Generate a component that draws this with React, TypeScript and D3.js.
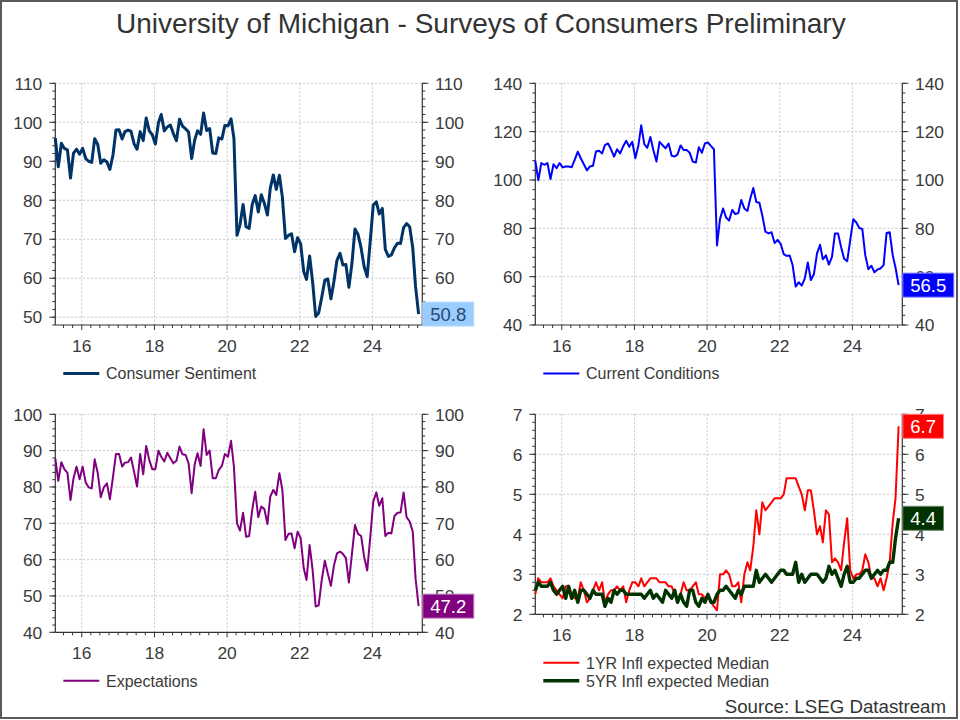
import React from "react";
import * as d3 from "d3";

// Monthly preliminary readings, April 2015 .. April 2025
const START_YEAR = 2015;
const START_MONTH = 3; // April (0-based)

const sentiment = [
  95.9, 88.6, 94.6, 93.3, 92.9, 85.7, 92.1, 93.1, 91.8,
  93.3, 90.7, 90.0, 89.7, 95.8, 94.3, 89.5, 90.4, 89.8, 87.9, 91.6, 98.0,
  98.1, 95.7, 97.6, 98.0, 97.7, 94.5, 93.1, 97.6, 95.3, 101.1, 97.8, 96.8,
  94.4, 99.9, 102.0, 97.8, 98.8, 99.3, 97.1, 95.3, 100.8, 99.0, 98.3, 97.5,
  90.7, 95.5, 97.8, 96.9, 102.4, 97.9, 98.4, 92.1, 92.0, 96.0, 95.7, 99.2,
  99.1, 100.9, 95.9, 71.0, 73.7, 78.9, 73.2, 72.8, 78.9, 81.2, 77.0, 81.4,
  79.2, 76.2, 83.0, 86.5, 82.8, 86.4, 80.8, 70.2, 71.0, 71.4, 66.8, 70.4,
  68.8, 61.7, 59.7, 65.7, 59.1, 50.2, 51.1, 55.1, 59.5, 59.8, 54.7, 59.1,
  64.6, 66.4, 63.4, 63.5, 57.7, 63.9, 72.6, 71.2, 67.7, 63.0, 60.4, 69.4,
  78.8, 79.6, 76.5, 77.9, 67.4, 65.6, 66.0, 67.8, 69.0, 68.9, 73.0, 74.0,
  73.2, 67.8, 57.9, 50.8,
];

const currentConditions = [
  108.0, 99.9, 107.0, 106.3, 107.0, 100.4, 106.5, 104.9, 107.0,
  105.2, 105.6, 105.6, 105.3, 108.3, 111.7, 109.0, 106.5, 104.0, 105.6, 105.9, 111.8,
  112.1, 111.0, 114.4, 115.1, 112.7, 109.7, 112.7, 111.0, 114.0, 116.2, 113.7, 115.8,
  109.0, 114.4, 122.6, 114.8, 113.3, 117.8, 112.4, 107.6, 115.8, 114.4, 113.1, 115.1,
  110.0, 109.7, 110.6, 114.3, 112.4, 112.4, 111.3, 107.6, 107.2, 113.5, 111.3, 115.1,
  115.5, 114.0, 112.7, 72.9, 83.8, 88.2, 84.5, 83.2, 87.6, 85.9, 86.3, 91.7,
  88.2, 87.2, 92.2, 96.7, 90.9, 90.6, 85.2, 78.6, 77.9, 78.4, 73.9, 75.2,
  73.6, 69.3, 68.6, 68.8, 64.8, 55.9, 57.7, 56.3, 59.3, 65.9, 58.6, 61.0,
  69.5, 73.2, 67.2, 68.8, 65.0, 68.2, 77.9, 77.9, 72.2, 67.4, 66.4, 75.0,
  83.8, 82.4, 80.1, 79.7, 68.8, 63.1, 64.5, 61.8, 63.0, 63.4, 64.8, 78.1,
  78.4, 68.8, 63.7, 56.5,
];

const expectations = [
  87.9, 81.7, 86.8, 84.9, 83.9, 76.4, 82.4, 85.6, 82.1,
  85.6, 81.2, 79.9, 79.6, 87.6, 83.8, 77.2, 79.9, 81.0, 76.6, 82.8, 89.1,
  89.1, 85.6, 86.7, 86.8, 88.1, 84.2, 80.1, 89.1, 83.5, 91.3, 87.4, 84.9,
  84.9, 90.0, 88.3, 87.0, 89.4, 87.9, 86.5, 87.2, 91.1, 89.0, 88.8, 86.5,
  78.3, 86.3, 89.3, 85.8, 95.9, 88.8, 90.0, 82.4, 82.4, 84.7, 85.8, 89.1,
  88.3, 92.7, 85.6, 70.0, 68.0, 72.9, 66.3, 66.5, 73.7, 78.7, 71.7, 74.6,
  73.9, 69.8, 77.3, 79.2, 77.8, 83.8, 79.2, 65.4, 67.1, 67.2, 63.1, 67.7,
  65.9, 57.6, 54.4, 64.0, 57.2, 47.1, 47.4, 54.4, 59.7, 56.2, 52.8, 58.3,
  61.7, 62.2, 61.6, 60.4, 53.7, 61.7, 69.5, 67.1, 66.5, 60.8, 57.0, 65.9,
  76.0, 78.5, 74.8, 76.9, 66.5, 67.4, 67.2, 72.0, 72.9, 73.0, 78.5, 71.7,
  70.5, 67.7, 54.9, 47.2,
];

const inflation1yr = [
  2.5, 2.9, 2.8, 2.8, 2.8, 2.9, 2.7, 2.6, 2.5,
  2.4, 2.7, 2.7, 2.5, 2.4, 2.4, 2.8, 2.6, 2.3, 2.4, 2.6, 2.8,
  2.6, 2.8, 2.3, 2.5, 2.6, 2.6, 2.7, 2.6, 2.7, 2.3, 2.6, 2.8,
  2.8, 2.7, 2.9, 2.7, 2.8, 2.9, 2.9, 2.9, 2.8, 2.8, 2.8, 2.7,
  2.7, 2.5, 2.3, 2.5, 2.8, 2.6, 2.6, 2.7, 2.8, 2.5, 2.5, 2.4,
  2.5, 2.3, 2.2, 2.1, 3.0, 3.0, 3.1, 3.0, 2.7, 2.7, 2.8, 2.3,
  3.0, 3.3, 3.1, 3.7, 4.6, 4.0, 4.8, 4.6, 4.7, 4.8, 4.9, 4.9,
  4.9, 5.0, 5.4, 5.4, 5.4, 5.4, 5.2, 5.0, 4.6, 5.1, 5.1, 4.6,
  4.0, 4.2, 3.8, 4.6, 4.5, 3.3, 3.4, 3.3, 3.1, 3.8, 4.4, 3.1,
  2.9, 3.0, 3.0, 3.1, 3.5, 3.3, 2.9, 2.9, 2.7, 2.9, 2.6, 2.9,
  3.3, 4.3, 4.9, 6.7,
];

const inflation5yr = [
  2.6, 2.8, 2.7, 2.7, 2.7, 2.8, 2.6, 2.5, 2.6,
  2.7, 2.4, 2.7, 2.4, 2.6, 2.3, 2.6, 2.6, 2.5, 2.4, 2.6, 2.5,
  2.5, 2.5, 2.2, 2.4, 2.3, 2.6, 2.5, 2.6, 2.6, 2.5, 2.5, 2.5,
  2.5, 2.5, 2.5, 2.4, 2.5, 2.6, 2.4, 2.5, 2.4, 2.3, 2.6, 2.5,
  2.4, 2.6, 2.3, 2.5, 2.3, 2.2, 2.6, 2.6, 2.3, 2.2, 2.4, 2.3,
  2.5, 2.3, 2.3, 2.5, 2.6, 2.6, 2.7, 2.6, 2.5, 2.4, 2.6, 2.5,
  2.7, 2.7, 2.7, 2.7, 3.1, 2.8, 2.9, 3.0, 2.9, 2.8, 2.9, 3.0,
  3.1, 3.1, 3.0, 3.0, 3.0, 3.3, 2.8, 3.0, 2.8, 2.9, 3.0, 3.0,
  3.0, 2.9, 2.8, 2.9, 3.2, 3.0, 3.1, 2.9, 2.7, 3.0, 3.2, 2.8,
  2.8, 2.9, 2.9, 3.0, 3.1, 3.1, 2.9, 3.0, 3.1, 3.0, 3.1, 3.1,
  3.3, 3.3, 3.9, 4.4,
];

const yearLabels = ["16", "18", "20", "22", "24"];

const FONT = '"Liberation Sans", Arial, Helvetica, sans-serif';
const TEXT = "#3a3a3a";

type Series = {
  name: string;
  values: number[];
  color: string;
  width: number;
  boxFill: string;
  boxText: string;
  boxStroke: string;
};

type PanelProps = {
  left: number;
  right: number;
  top: number;
  bottom: number;
  yDomain: [number, number];
  yTicks: number[];
  minorStep: number;
  series: Series[];
};

const digitWidth = (s: string, fs: number) =>
  s.split("").reduce((a, c) => a + (c === "." ? 0.278 : 0.556), 0) * fs;

function Panel({ left, right, top, bottom, yDomain, yTicks, minorStep, series }: PanelProps) {
  const dates = series[0].values.map((_, i) => new Date(START_YEAR, START_MONTH + i, 10));
  const x = d3
    .scaleTime()
    .domain([new Date(2015, 3, 10), new Date(2025, 4, 17)])
    .range([left, right]);
  const y = d3.scaleLinear().domain(yDomain).range([bottom, top]);

  const quarterTicks = d3.timeMonth
    .every(3)!
    .range(x.domain()[0], x.domain()[1])
    .filter((d) => d.getMonth() % 3 === 0);
  const labelYears = yearLabels.map((l) => new Date(2000 + +l, 0, 1));
  const minors = d3.range(yDomain[0], yDomain[1] + 1e-9, minorStep);

  const line = d3
    .line<number>()
    .x((_, i) => x(dates[i]))
    .y((d) => y(d));

  const tickFs = 17.4;
  const legendY0 = bottom + 48.4;

  return (
    <g>
      {/* gridlines */}
      {labelYears.map((d, i) => (
        <line
          key={"vg" + i}
          x1={x(d)}
          x2={x(d)}
          y1={top}
          y2={bottom}
          stroke="#c4c4c4"
          strokeWidth={1}
          strokeDasharray="2,2"
        />
      ))}
      {yTicks
        .filter((t) => y(t) < bottom - 0.5)
        .map((t) => (
          <line
            key={"hg" + t}
            x1={left}
            x2={right}
            y1={y(t)}
            y2={y(t)}
            stroke="#c4c4c4"
            strokeWidth={1}
            strokeDasharray="2,2"
          />
        ))}
      {/* axes */}
      <line x1={left} x2={left} y1={top} y2={bottom} stroke="#333" strokeWidth={1.2} />
      <line x1={right} x2={right} y1={top} y2={bottom} stroke="#333" strokeWidth={1.2} />
      <line x1={left} x2={right} y1={bottom} y2={bottom} stroke="#333" strokeWidth={1.2} />
      {minors.map((t) => (
        <g key={"mt" + t}>
          <line x1={left - 3} x2={left} y1={y(t)} y2={y(t)} stroke="#333" />
          <line x1={right} x2={right + 3} y1={y(t)} y2={y(t)} stroke="#333" />
        </g>
      ))}
      {yTicks.map((t) => (
        <g key={"yt" + t}>
          <line x1={left - 6} x2={left} y1={y(t)} y2={y(t)} stroke="#333" />
          <line x1={right} x2={right + 6} y1={y(t)} y2={y(t)} stroke="#333" />
          <text
            x={left - 13}
            y={y(t)}
            dy="0.36em"
            textAnchor="end"
            fontSize={tickFs}
            fill={TEXT}
            fontFamily={FONT}
          >
            {t}
          </text>
          <text
            x={right + 12.7}
            y={y(t)}
            dy="0.36em"
            textAnchor="start"
            fontSize={tickFs}
            fill={TEXT}
            fontFamily={FONT}
          >
            {t}
          </text>
        </g>
      ))}
      {quarterTicks.map((d, i) => {
        const even = d.getMonth() === 0 && d.getFullYear() % 2 === 0;
        return (
          <line
            key={"xt" + i}
            x1={x(d)}
            x2={x(d)}
            y1={bottom}
            y2={bottom + (even ? 5 : 3)}
            stroke="#333"
          />
        );
      })}
      {labelYears.map((d, i) => (
        <text
          key={"xl" + i}
          x={x(d)}
          y={bottom + 27}
          textAnchor="middle"
          fontSize={tickFs}
          fill={TEXT}
          fontFamily={FONT}
        >
          {yearLabels[i]}
        </text>
      ))}
      {/* series lines */}
      {series.map((s) => (
        <path
          key={s.name}
          d={line(s.values) || ""}
          fill="none"
          stroke={s.color}
          strokeWidth={s.width}
          strokeLinejoin="round"
        />
      ))}
      {/* last value boxes */}
      {series.map((s) => {
        const v = s.values[s.values.length - 1];
        const label = v.toFixed(1);
        const fs = 18.5;
        const w = digitWidth(label, fs) + 15;
        const cy = y(v);
        return (
          <g key={"box" + s.name}>
            <rect
              x={right + 0.5}
              y={cy - 12}
              width={w}
              height={24}
              fill={s.boxFill}
              stroke={s.boxStroke}
              strokeWidth={1}
            />
            <text
              x={right + 0.5 + w / 2}
              y={cy}
              dy="0.36em"
              textAnchor="middle"
              fontSize={fs}
              fill={s.boxText}
              fontFamily={FONT}
            >
              {label}
            </text>
          </g>
        );
      })}
      {/* legend */}
      {series.map((s, k) => (
        <g key={"lg" + s.name}>
          <line
            x1={left + 8}
            x2={left + 44}
            y1={legendY0 + 18 * k}
            y2={legendY0 + 18 * k}
            stroke={s.color}
            strokeWidth={s.width}
          />
          <text
            x={left + 50.7}
            y={legendY0 + 18 * k + 6}
            fontSize={16}
            fill={TEXT}
            fontFamily={FONT}
          >
            {s.name}
          </text>
        </g>
      ))}
    </g>
  );
}

export default function App() {
  return (
    <svg
      width={960}
      height={720}
      style={{ position: "absolute", left: 0, top: 0, display: "block", background: "#fff" }}
    >
      <rect x={0} y={0} width={960} height={720} fill="#fff" />
      <rect x={1} y={1} width={956} height={717} fill="none" stroke="#5a5a5a" strokeWidth={2} />
      <text
        x={480.8}
        y={33.3}
        textAnchor="middle"
        fontSize={28}
        fill="#333"
        fontFamily={FONT}
      >
        University of Michigan - Surveys of Consumers Preliminary
      </text>

      <Panel
        left={55.3}
        right={422.3}
        top={83.3}
        bottom={325}
        yDomain={[48, 110]}
        yTicks={[50, 60, 70, 80, 90, 100, 110]}
        minorStep={2}
        series={[
          {
            name: "Consumer Sentiment",
            values: sentiment,
            color: "#003366",
            width: 3,
            boxFill: "#99ccff",
            boxText: "#2a4a70",
            boxStroke: "#b9dcff",
          },
        ]}
      />
      <Panel
        left={535.3}
        right={902.3}
        top={83.3}
        bottom={325}
        yDomain={[40, 140]}
        yTicks={[40, 60, 80, 100, 120, 140]}
        minorStep={4}
        series={[
          {
            name: "Current Conditions",
            values: currentConditions,
            color: "#0000ff",
            width: 2,
            boxFill: "#0000ff",
            boxText: "#ffffff",
            boxStroke: "#7f7fff",
          },
        ]}
      />
      <Panel
        left={55.3}
        right={422.3}
        top={414.3}
        bottom={632.3}
        yDomain={[40, 100]}
        yTicks={[40, 50, 60, 70, 80, 90, 100]}
        minorStep={2}
        series={[
          {
            name: "Expectations",
            values: expectations,
            color: "#800080",
            width: 2,
            boxFill: "#800080",
            boxText: "#ffffff",
            boxStroke: "#c080c0",
          },
        ]}
      />
      <Panel
        left={535.3}
        right={902.3}
        top={414.3}
        bottom={614.3}
        yDomain={[2, 7]}
        yTicks={[2, 3, 4, 5, 6, 7]}
        minorStep={0.2}
        series={[
          {
            name: "1YR Infl expected Median",
            values: inflation1yr,
            color: "#ff0000",
            width: 2,
            boxFill: "#ff0000",
            boxText: "#ffffff",
            boxStroke: "#ff8080",
          },
          {
            name: "5YR Infl expected Median",
            values: inflation5yr,
            color: "#003300",
            width: 3.4,
            boxFill: "#003300",
            boxText: "#ffffff",
            boxStroke: "#6a8a6a",
          },
        ]}
      />
      <text
        x={946}
        y={713.3}
        textAnchor="end"
        fontSize={18.7}
        fill="#333"
        fontFamily={FONT}
      >
        Source: LSEG Datastream
      </text>
    </svg>
  );
}
